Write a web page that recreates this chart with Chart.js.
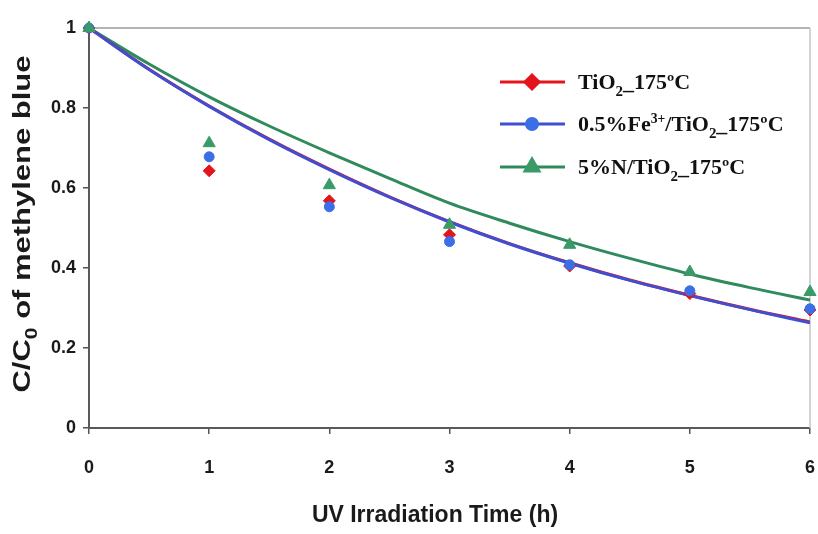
<!DOCTYPE html>
<html>
<head>
    <title>Methylene blue degradation</title>
    <script src="https://cdn.jsdelivr.net/npm/chart.js"></script>
    <style>
        body {
            margin: 0;
            background-color: #ffffff;
        }
        #chart {
            display: block;
        }
    </style>
</head>
<body>
    <canvas id="chart" width="818" height="534"></canvas>

    <script>
        // measured points (C/C0) at each irradiation hour
        const hours = [0, 1, 2, 3, 4, 5, 6];
        const tio2Points = [1, 0.643, 0.568, 0.483, 0.405, 0.336, 0.295];
        const fePoints = [1, 0.678, 0.553, 0.466, 0.408, 0.343, 0.298];
        const nPoints = [1, 0.712, 0.607, 0.508, 0.458, 0.390, 0.340];

        // trend lines every half hour
        const fitHours = [0, 0.5, 1, 1.5, 2, 2.5, 3, 3.5, 4, 4.5, 5, 5.5, 6];
        const tio2Fit = [1, 0.897, 0.805, 0.722, 0.647, 0.578, 0.516, 0.461, 0.413, 0.370, 0.332, 0.297, 0.265];
        const feFit = [1, 0.896, 0.804, 0.721, 0.646, 0.577, 0.515, 0.460, 0.412, 0.369, 0.331, 0.296, 0.263];
        const nFit = [1, 0.910, 0.828, 0.755, 0.688, 0.624, 0.562, 0.512, 0.466, 0.424, 0.385, 0.351, 0.320];

        const yTicks = [0, 0.2, 0.4, 0.6, 0.8, 1];

        const red = '#e3141c';
        const blueLine = '#3f4fd2';
        const bluePoint = '#3b6fe6';
        const greenLine = '#2f8a5c';
        const greenPoint = '#3a9a68';

        function toXY(xs, ys) {
            return xs.map((x, i) => ({ x: x, y: ys[i] }));
        }

        // draws a run of text pieces, some of them sub/superscript
        function drawRich(ctx, parts, x, y, size, family) {
            parts.forEach(p => {
                let s = size;
                let dy = 0;
                if (p.sub) { s = size * 0.68; dy = size * 0.3; }
                if (p.sup) { s = size * 0.62; dy = -size * 0.38; }
                ctx.font = 'bold ' + s + 'px ' + family;
                ctx.fillText(p.t, x, y + dy);
                x += ctx.measureText(p.t).width;
            });
            return x;
        }

        function richWidth(ctx, parts, size, family) {
            let w = 0;
            parts.forEach(p => {
                let s = size;
                if (p.sub) s = size * 0.68;
                if (p.sup) s = size * 0.62;
                ctx.font = 'bold ' + s + 'px ' + family;
                w += ctx.measureText(p.t).width;
            });
            return w;
        }

        const legendItems = [
            { color: red, lineColor: red, style: 'rectRot', r: 7, parts: [{ t: 'TiO' }, { t: '2', sub: true }, { t: '_175ºC' }] },
            { color: bluePoint, lineColor: blueLine, style: 'circle', r: 5.5, parts: [{ t: '0.5%Fe' }, { t: '3+', sup: true }, { t: '/TiO' }, { t: '2', sub: true }, { t: '_175ºC' }] },
            { color: greenPoint, lineColor: greenLine, style: 'triangle', r: 8, parts: [{ t: '5%N/TiO' }, { t: '2', sub: true }, { t: '_175ºC' }] }
        ];

        const decorPlugin = {
            id: 'decor',
            beforeDatasetsDraw(chart) {
                const ctx = chart.ctx;
                const a = chart.chartArea;
                ctx.save();
                // light frame on top and right
                ctx.lineWidth = 1.5;
                ctx.strokeStyle = '#9a9a9a';
                ctx.beginPath();
                ctx.moveTo(a.left, a.top);
                ctx.lineTo(a.right, a.top);
                ctx.stroke();
                ctx.strokeStyle = '#c4c4c4';
                ctx.beginPath();
                ctx.moveTo(a.right, a.top);
                ctx.lineTo(a.right, a.bottom);
                ctx.stroke();
                ctx.restore();
            },
            afterDraw(chart) {
                const ctx = chart.ctx;
                const sans = '"Liberation Sans", Arial, sans-serif';
                const serif = '"Liberation Serif", "Times New Roman", serif';
                ctx.save();
                ctx.fillStyle = '#1a1a1a';
                ctx.textBaseline = 'alphabetic';

                // x axis title
                ctx.font = 'bold 23px ' + sans;
                ctx.textAlign = 'center';
                ctx.fillText('UV Irradiation Time (h)', 435, 522);

                // y axis title, rotated and stretched like the original
                const yParts = [{ t: 'C/C' }, { t: '0', sub: true }, { t: ' of methylene blue' }];
                ctx.textAlign = 'left';
                ctx.save();
                ctx.translate(30, 224);
                ctx.rotate(-Math.PI / 2);
                const w = richWidth(ctx, yParts, 23, sans);
                const stretch = 337 / w;
                ctx.scale(stretch, 1);
                drawRich(ctx, yParts, -w / 2, 0, 23, sans);
                ctx.restore();

                // legend
                const rows = [82, 124, 167];
                legendItems.forEach((item, i) => {
                    const y = rows[i];
                    ctx.strokeStyle = item.lineColor;
                    ctx.lineWidth = 3;
                    ctx.beginPath();
                    ctx.moveTo(500, y);
                    ctx.lineTo(565, y);
                    ctx.stroke();
                    ctx.fillStyle = item.color;
                    ctx.strokeStyle = item.color;
                    Chart.helpers.drawPoint(ctx, { pointStyle: item.style, radius: item.r, borderWidth: 1 }, 532, y);
                    ctx.fillStyle = '#111';
                    drawRich(ctx, item.parts, 578, y + 7, 22, serif);
                });
                ctx.restore();
            }
        };

        const tickFont = { family: '"Liberation Sans Narrow", "Liberation Sans", Arial, sans-serif', weight: 'bold', size: 18 };

        const ctx = document.getElementById('chart').getContext('2d');
        new Chart(ctx, {
            type: 'scatter',
            data: {
                datasets: [
                    {
                        label: 'N fit',
                        data: toXY(fitHours, nFit),
                        showLine: true,
                        borderColor: greenLine,
                        borderWidth: 3,
                        pointRadius: 0,
                        cubicInterpolationMode: 'monotone',
                        order: 6
                    },
                    {
                        label: 'TiO2 fit',
                        data: toXY(fitHours, tio2Fit),
                        showLine: true,
                        borderColor: red,
                        borderWidth: 3,
                        pointRadius: 0,
                        cubicInterpolationMode: 'monotone',
                        order: 5
                    },
                    {
                        label: 'Fe fit',
                        data: toXY(fitHours, feFit),
                        showLine: true,
                        borderColor: blueLine,
                        borderWidth: 3,
                        pointRadius: 0,
                        cubicInterpolationMode: 'monotone',
                        order: 4
                    },
                    {
                        label: 'TiO2_175C',
                        data: toXY(hours, tio2Points),
                        pointStyle: 'rectRot',
                        pointRadius: 6,
                        backgroundColor: red,
                        borderColor: red,
                        borderWidth: 1,
                        clip: false,
                        order: 3
                    },
                    {
                        label: '0.5%Fe3+/TiO2_175C',
                        data: toXY(hours, fePoints),
                        pointStyle: 'circle',
                        pointRadius: 5,
                        backgroundColor: bluePoint,
                        borderColor: bluePoint,
                        borderWidth: 1,
                        clip: false,
                        order: 2
                    },
                    {
                        label: '5%N/TiO2_175C',
                        data: toXY(hours, nPoints),
                        pointStyle: 'triangle',
                        pointRadius: 7,
                        backgroundColor: greenPoint,
                        borderColor: greenPoint,
                        borderWidth: 1,
                        clip: false,
                        order: 1
                    }
                ]
            },
            options: {
                responsive: false,
                animation: false,
                layout: {
                    padding: { top: 28, right: 7, left: 0, bottom: 0 }
                },
                plugins: {
                    legend: { display: false },
                    tooltip: { enabled: false }
                },
                scales: {
                    x: {
                        type: 'linear',
                        min: 0,
                        max: 6,
                        afterFit: scale => {
                            scale.height = 106;
                            scale.paddingLeft = 0;
                            scale.paddingRight = 0;
                        },
                        grid: { drawOnChartArea: false, drawTicks: true, tickLength: 6, color: '#555', lineWidth: 1.5 },
                        border: { color: '#5a5a5a', width: 2 },
                        ticks: { stepSize: 1, color: '#1a1a1a', font: tickFont, padding: 23 }
                    },
                    y: {
                        min: 0,
                        max: 1,
                        afterFit: scale => {
                            scale.width = 89;
                            scale.paddingTop = 0;
                            scale.paddingBottom = 0;
                        },
                        afterBuildTicks: scale => { scale.ticks = yTicks.map(v => ({ value: v })); },
                        grid: { drawOnChartArea: false, drawTicks: true, tickLength: 6, color: '#555', lineWidth: 1.5 },
                        border: { color: '#5a5a5a', width: 2 },
                        ticks: {
                            color: '#1a1a1a',
                            font: tickFont,
                            padding: 7,
                            callback: v => String(+v.toFixed(1))
                        }
                    }
                }
            },
            plugins: [decorPlugin]
        });
    </script>
</body>
</html>
